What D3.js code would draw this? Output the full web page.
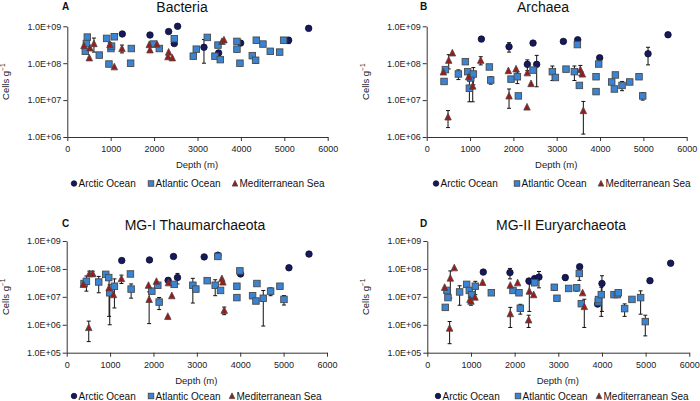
<!DOCTYPE html>
<html>
<head>
<meta charset="utf-8">
<script src="https://cdn.jsdelivr.net/npm/d3@7"></script>
<style>
  body { margin: 0; background: #fff; }
  svg { font-family: "Liberation Sans", Arial, sans-serif; }
  .axis path, .axis line { stroke: #333; stroke-width: 1; }
  .axis text { font-size: 9px; fill: #222; }
</style>
</head>
<body>
<svg id="chart" width="700" height="401"></svg>
<script>
// [depth (m), cells per g, sd]
const bactArctic = [[1267,6.2e8,0],[1905,5.8e8,0],[2335,7.2e8,0],[2542,1.0e9,0],[2465,3.4e8,0],[3149,2.7e8,1.7e8],[3487,1.9e8,0.3e8],[3994,3.5e8,0],[5100,4.2e8,0.8e8],[5561,8.8e8,1.2e8]];
const bactAtlantic = [[461,5.1e8,0],[415,2.1e8,0],[440,3.4e8,0],[737,1.66e8,0],[906,4.7e8,0],[960,9.5e7,0],[1006,2.5e8,0],[1020,2.9e8,0],[1083,5.2e8,0],[1459,1.0e8,0],[1475,2.5e8,0],[1982,3.3e8,0],[2120,2.5e8,0],[2465,4.6e8,0],[2903,1.55e8,0],[2972,2.4e8,0],[3226,5.0e8,0],[3402,1.55e8,0],[3472,3.1e8,0],[3525,1.25e8,0],[3909,3.9e8,0],[3909,2.4e8,0],[3978,1.0e8,0],[4263,1.6e8,0],[4339,1.2e8,0.2e8],[4355,4.2e8,0],[4508,3.3e8,0],[4677,2.1e8,0],[4893,2.0e8,0],[4985,4.2e8,0]];
const bactMed = [[384,3.0e8,0],[507,1.4e8,0],[522,2.6e8,0],[614,3.4e8,1.4e8],[983,3.2e8,0.4e8],[1083,8.0e7,0],[1260,2.5e8,0.6e8],[1889,3.2e8,0],[1905,2.3e8,0],[2066,3.3e8,0],[2335,2.0e8,0],[2320,1.5e8,0],[2419,1.4e8,0],[3564,3.9e8,0],[3610,4.3e8,0]];

const archArctic = [[1262,4.5e8,0],[1900,2.8e8,0.8e8],[2454,3.5e8,0],[2323,9.3e7,3e7],[2538,9.3e7,7e7],[3154,3.9e8,0],[3485,4.3e8,0],[3992,1.4e8,0],[5108,1.8e8,0.9e8],[5569,5.9e8,0.8e8]];
const archAtlantic = [[400,3.2e7,0],[431,6.7e7,0],[731,5.1e7,1.5e7],[892,1.1e8,0],[946,5.9e7,0],[985,2.1e7,1.2e7],[1015,4.0e7,0],[1077,5.1e7,2.5e7],[1446,7.9e7,0],[1477,3.5e7,0.8e7],[1946,3.7e7,0],[2092,4.3e7,1.5e7],[2115,1.3e7,0],[2454,6.5e7,0],[2900,5.9e7,2.5e7],[2969,4.1e7,0],[3215,6.9e7,0],[3408,5.9e7,2.5e7],[3477,3.2e8,0],[3523,2.5e7,0],[3908,4.3e7,0],[3908,1.7e7,0],[3969,9.5e7,0],[4269,3.1e7,0],[4354,4.8e7,0],[4331,2.0e7,0],[4508,2.5e7,0.7e7],[4685,3.1e7,0],[4900,4.3e7,0],[4985,1.3e7,0.3e7]];
const archMed = [[385,5.8e7,0],[492,3.5e6,1.7e6],[508,1.2e8,0.5e8],[592,1.9e8,0],[969,4.3e7,0.8e7],[1062,2.4e7,1.5e7],[1246,1.2e8,0.3e8],[1885,6.3e7,0],[1900,1.3e7,7e6],[2062,7.0e7,0],[2323,5.5e7,0],[2315,6.5e6,0],[2408,2.8e7,0],[3546,6.7e7,2e7],[3592,5.1e7,0],[3615,5.2e6,4e6]];

const thaumArctic = [[1269,2.0e8,0],[1908,2.1e8,0],[2462,2.8e8,0],[2338,3.9e7,0],[2554,4.9e7,2e7],[3169,2.7e8,0],[3485,3.1e8,0],[4008,6.6e7,0],[5123,1.1e8,2e7],[5585,3.4e8,0]];
const thaumAtlantic = [[400,3.0e7,0],[454,3.6e7,2e7],[738,3.4e7,2e7],[900,6.4e7,0],[969,4.9e7,0],[992,1.4e7,1.3e7],[1100,2.4e7,2e7],[1469,6.6e7,0],[1485,1.9e7,1e7],[1962,1.6e7,0],[2100,2.6e7,0],[2131,6.5e6,3e6],[2477,2.8e7,0],[2908,2.6e7,2e7],[2977,1.9e7,0],[3238,3.8e7,0],[3423,2.6e7,1.5e7],[3485,2.8e8,0],[3546,1.7e7,0],[3923,2.4e7,0],[3923,9.4e6,0],[3992,8.5e7,0],[4285,1.1e7,0],[4362,7.1e6,0],[4385,3.0e7,0],[4531,8.9e6,8e6],[4700,1.6e7,0.5e7],[4915,2.4e7,0],[5008,8.1e6,3e6]];
const thaumMed = [[385,2.8e7,0],[508,8.0e5,5.5e5],[523,6.8e7,1.5e7],[600,6.8e7,1.5e7],[977,2.1e7,1.9e7],[1077,1.2e7,0],[1262,4.5e7,1.5e7],[1885,2.6e7,0],[1900,8.1e6,7e6],[2069,3.6e7,0],[2331,2.0e6,0],[2346,3.2e7,0],[2423,1.1e7,0],[3577,4.5e7,0],[3600,3.4e7,0],[3631,3.3e6,1e6]];

const euryArctic = [[1282,7.7e7,0],[1893,7.4e7,3e7],[2328,3.7e7,0],[2458,4.5e7,0],[2557,5.1e7,3e7],[3160,4.9e7,1e7],[3489,1.2e8,0],[3900,5.5e6,0],[4000,3.0e7,2.7e7],[5099,3.8e7,0],[5573,1.6e8,0]];
const euryAtlantic = [[412,4.2e6,0],[450,1.7e7,0],[473,9.4e6,0],[740,1.5e7,1e7],[901,2.8e7,0],[962,1.7e7,0],[1015,1.2e7,0],[1099,2.4e7,1.2e7],[1466,1.4e7,0],[1962,1.7e7,0],[2099,1.4e7,0],[2130,3.9e6,1.5e6],[2458,3.2e7,0],[2908,2.2e7,0.5e7],[2969,8.9e6,0],[3237,2.0e7,0],[3420,2.1e7,0.5e7],[3481,6.9e7,3e7],[3527,5.7e6,0],[3916,6.6e6,0],[3920,8.0e6,0],[3985,1.2e7,1e7],[4275,1.2e7,0],[4351,1.2e7,0],[4374,1.4e7,0],[4519,3.8e6,1.8e6],[4687,8.1e6,0],[4885,9.4e6,7e6],[4992,1.3e6,0.9e6]];
const euryMed = [[397,2.2e7,0],[511,7.6e5,5.5e5],[527,4.7e7,3.8e7],[618,1.1e8,0],[977,8.1e6,0],[1000,7.0e6,2e6],[1092,9.8e6,0],[1267,3.3e7,0],[1901,2.6e7,0],[1901,2.5e6,1.7e6],[2069,3.2e7,0],[2336,1.6e7,1.3e7],[2321,1.5e6,7e5],[2435,1.2e7,0],[3557,1.4e7,0],[3595,4.5e6,3.7e6]];

const xTicks = [0, 1000, 2000, 3000, 4000, 5000, 6000];
const yTicksTop = [1e6, 1e7, 1e8, 1e9];
const yTicksBottom = [1e5, 1e6, 1e7, 1e8, 1e9];
const legendNames = ['Arctic Ocean', 'Atlantic Ocean', 'Mediterranean Sea'];

const colours = { arctic: '#161a5c', atlantic: '#3a84d4', med: '#9e1a1a' };

const panels = [
    { letter: 'A', title: 'Bacteria', x0: 67.3, x1: 327.7, yTop: 26.3, yBot: 137, ticks: yTicksTop, titleX: 182, titleY: 11.5, letterX: 62, letterY: 9.5, legendY: 183.5, legendX: [74, 151, 235], series: [bactArctic, bactAtlantic, bactMed] },
    { letter: 'B', title: 'Archaea', x0: 426.7, x1: 686.7, yTop: 26.3, yBot: 137, ticks: yTicksTop, titleX: 543, titleY: 11.5, letterX: 420, letterY: 9.5, legendY: 183.5, legendX: [436, 517, 601], series: [archArctic, archAtlantic, archMed] },
    { letter: 'C', title: 'MG-I Thaumarchaeota', x0: 66.7, x1: 327, yTop: 241, yBot: 352.7, ticks: yTicksBottom, titleX: 195, titleY: 230, letterX: 62, letterY: 227, legendY: 396, legendX: [74, 151, 232], series: [thaumArctic, thaumAtlantic, thaumMed] },
    { letter: 'D', title: 'MG-II Euryarchaeota', x0: 427.3, x1: 689.3, yTop: 241, yBot: 352.7, ticks: yTicksBottom, titleX: 561, titleY: 230, letterX: 420, letterY: 227, legendY: 396, legendX: [438, 518, 599], series: [euryArctic, euryAtlantic, euryMed] }
];

const svg = d3.select('#chart');

function fmtE(v) {
    let e = Math.round(Math.log10(v));
    return '1.0E+' + (e < 10 ? '0' : '') + e;
}

function marker(g, kind, x, y, s) {
    if (kind == 0) {
        g.append('circle').attr('cx', x).attr('cy', y).attr('r', s / 2)
            .attr('fill', colours.arctic).attr('stroke', '#0b0d30').attr('stroke-width', 0.8);
    } else if (kind == 1) {
        g.append('rect').attr('x', x - s / 2).attr('y', y - s / 2).attr('width', s).attr('height', s)
            .attr('fill', colours.atlantic).attr('stroke', '#4a4a4a').attr('stroke-width', 0.9);
    } else {
        let h = s * 0.95;
        g.append('path')
            .attr('d', `M${x},${y - h / 2 - 0.5}L${x + s / 2},${y + h / 2}L${x - s / 2},${y + h / 2}Z`)
            .attr('fill', colours.med).attr('stroke', '#4a4a4a').attr('stroke-width', 0.8);
    }
}

function drawPanel(p) {
    let xScale = d3.scaleLinear().domain([0, 6000]).range([p.x0, p.x1]);
    let yScale = d3.scaleLog().domain([p.ticks[0], p.ticks[p.ticks.length - 1]]).range([p.yBot, p.yTop]);

    let g = svg.append('g');

    g.append('g')
        .attr('class', 'axis')
        .attr('transform', `translate(0, ${p.yBot})`)
        .call(d3.axisBottom(xScale).tickValues(xTicks).tickFormat(d3.format('d')).tickSize(4).tickSizeOuter(0))
        .call(a => a.selectAll('text').attr('font-size', '9.5px').attr('dy', '0.9em'));

    g.append('g')
        .attr('class', 'axis')
        .attr('transform', `translate(${p.x0}, 0)`)
        .call(d3.axisLeft(yScale).tickValues(p.ticks).tickFormat(fmtE).tickSize(4).tickSizeOuter(0))
        .call(a => a.selectAll('text').attr('font-size', '9px').attr('x', -6));

    // titles
    g.append('text').attr('x', p.titleX).attr('y', p.titleY).attr('text-anchor', 'middle')
        .attr('font-size', '14px').attr('fill', '#111').text(p.title);
    g.append('text').attr('x', p.letterX).attr('y', p.letterY)
        .attr('font-size', '10px').attr('font-weight', 'bold').attr('fill', '#111').text(p.letter);

    // axis labels
    let midY = (p.yTop + p.yBot) / 2;
    let yl = g.append('text').attr('transform', `translate(${p.x0 - 58}, ${midY}) rotate(-90)`)
        .attr('text-anchor', 'middle').attr('font-size', '9.5px').attr('fill', '#222');
    yl.append('tspan').text('Cells g');
    yl.append('tspan').attr('font-size', '6.5px').attr('dy', '-4').text('−1');

    g.append('text').attr('x', (p.x0 + p.x1) / 2 - 0.5).attr('y', p.yBot + 31)
        .attr('text-anchor', 'middle').attr('font-size', '9.5px').attr('fill', '#222').text('Depth (m)');

    // error bars first
    let eb = g.append('g').attr('stroke', '#111').attr('stroke-width', 1);
    p.series.forEach(s => {
        s.forEach(d => {
            if (!d[2]) return;
            let x = xScale(d[0]);
            let lo = Math.max(d[1] - d[2], p.ticks[0] * 1.2);
            let y1 = yScale(lo), y2 = yScale(d[1] + d[2]);
            eb.append('line').attr('x1', x).attr('x2', x).attr('y1', y1).attr('y2', y2);
            eb.append('line').attr('x1', x - 2).attr('x2', x + 2).attr('y1', y1).attr('y2', y1);
            eb.append('line').attr('x1', x - 2).attr('x2', x + 2).attr('y1', y2).attr('y2', y2);
        });
    });

    p.series.forEach((s, k) => {
        let mg = g.append('g');
        s.forEach(d => marker(mg, k, xScale(d[0]), yScale(d[1]), 6.5));
    });

    // legend
    let ly = p.legendY;
    legendNames.forEach((name, k) => {
        let lx = p.legendX[k];
        marker(g, k, lx, ly, 5.5);
        g.append('text').attr('x', lx + 4.5).attr('y', ly + 3.5)
            .attr('font-size', '10px').attr('fill', '#111').text(name);
    });
}

panels.forEach(drawPanel);
</script>
</body>
</html>
